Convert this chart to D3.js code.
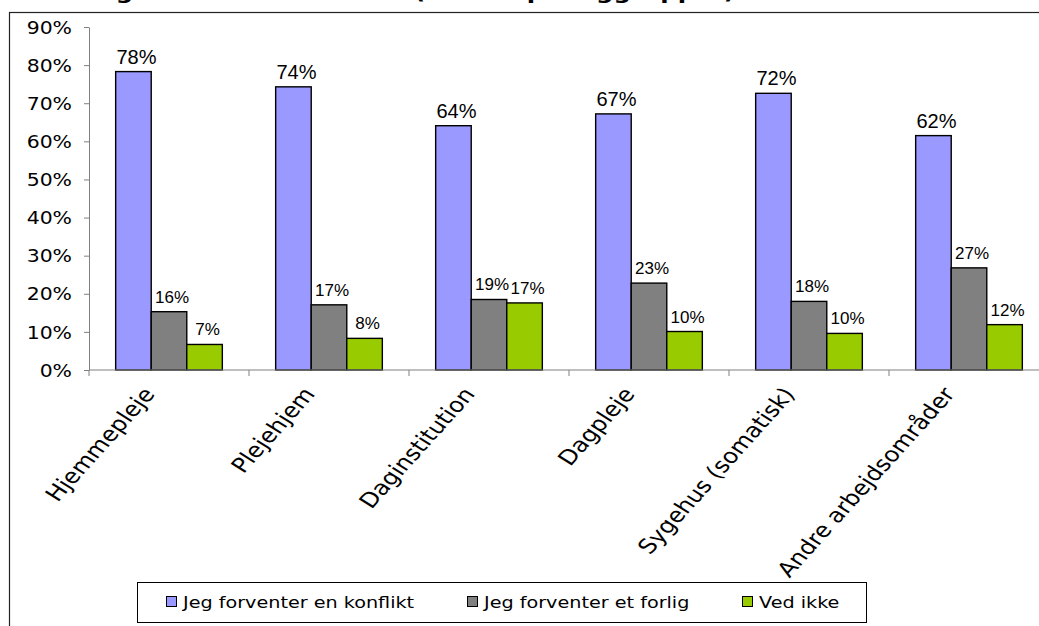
<!DOCTYPE html>
<html>
<head>
<meta charset="utf-8">
<script src="https://cdn.jsdelivr.net/npm/d3@7"></script>
<style>
  body { margin: 0; background: #fff; }
  svg { display: block; }
</style>
</head>
<body>
<div id="chart"></div>
<script>
const categories = ["Hjemmepleje", "Plejehjem", "Daginstitution", "Dagpleje", "Sygehus (somatisk)", "Andre arbejdsområder"];
const seriesNames = ["Jeg forventer en konflikt", "Jeg forventer et forlig", "Ved ikke"];
const konflikt = [78.3, 74.3, 64.1, 67.2, 72.6, 61.5];
const forlig = [15.3, 17.1, 18.5, 22.8, 18.0, 26.8];
const vedIkke = [6.7, 8.3, 17.6, 10.1, 9.6, 11.9];
const konfliktLabels = ["78%", "74%", "64%", "67%", "72%", "62%"];
const forligLabels = ["16%", "17%", "19%", "23%", "18%", "27%"];
const vedIkkeLabels = ["7%", "8%", "17%", "10%", "10%", "12%"];
const yTicks = [0, 10, 20, 30, 40, 50, 60, 70, 80, 90];
const title = "Forventning til overenskomsten (fordelt på faggrupper)";

const width = 1039;
const height = 626;
const sx = 1.2; // the original picture is stretched sideways
const colors = ["#9999ff", "#808080", "#99cc00"];

const svg = d3
  .select("#chart")
  .append("svg")
  .attr("width", width)
  .attr("height", height);

// title, cut off at the top just like in the source picture
svg
  .append("text")
  .attr("transform", `translate(-33,-1) scale(${sx},1)`)
  .style("font-family", "DejaVu Sans")
  .style("font-weight", "bold")
  .style("font-size", "20.3px")
  .text(title);

// chart frame
svg
  .append("rect")
  .attr("x", 9.5)
  .attr("y", 12.5)
  .attr("width", 1200)
  .attr("height", 800)
  .attr("fill", "none")
  .attr("stroke", "#222")
  .attr("stroke-width", 1.2);

const x = d3.scaleBand().domain(categories).range([89, 1049]);
const bw = x.bandwidth();
const inner = d3
  .scaleBand()
  .domain([0, 1, 2])
  .range([(bw * 0.75) / 4.5, (bw * 3.75) / 4.5]);
const y = d3.scaleLinear().domain([0, 90]).range([370, 27]);

// y axis
const yAxis = svg
  .append("g")
  .attr("transform", "translate(89,0)")
  .call(
    d3
      .axisLeft(y)
      .tickValues(yTicks)
      .tickFormat((d) => d + "%")
      .tickSize(5)
      .tickSizeOuter(0)
  );
yAxis.select(".domain").attr("stroke", "#808080");
yAxis.selectAll(".tick line").attr("stroke", "#808080");
yAxis
  .selectAll(".tick text")
  .attr("x", null)
  .attr("transform", `translate(-17,0) scale(${sx},1)`)
  .attr("dy", "0.36em")
  .style("font-family", "DejaVu Sans")
  .style("font-size", "17px")
  .attr("fill", "#000");

// bars
const series = [konflikt, forlig, vedIkke];
const labels = [konfliktLabels, forligLabels, vedIkkeLabels];

series.forEach((values, s) => {
  const g = svg.append("g");
  g.selectAll("rect")
    .data(values)
    .enter()
    .append("rect")
    .attr("x", (d, i) => x(categories[i]) + inner(s))
    .attr("y", (d) => y(d))
    .attr("width", inner.bandwidth())
    .attr("height", (d) => y(0) - y(d))
    .attr("fill", colors[s])
    .attr("stroke", "#000")
    .attr("stroke-width", 1.4);

  g.selectAll("text")
    .data(values)
    .enter()
    .append("text")
    .attr("x", (d, i) => x(categories[i]) + inner(s) + inner.bandwidth() / 2 + 3)
    .attr("y", (d) => y(d) - (s === 0 ? 8 : 9))
    .attr("text-anchor", "middle")
    .style("font-family", "Liberation Sans")
    .style("font-size", s === 0 ? "20px" : "17px")
    .text((d, i) => labels[s][i]);
});

// x axis
svg
  .append("line")
  .attr("x1", 89)
  .attr("x2", 1049)
  .attr("y1", y(0))
  .attr("y2", y(0))
  .attr("stroke", "#808080");

const edges = categories.map((c) => x(c)).concat([x.range()[1]]);
svg
  .selectAll(".xtick")
  .data(edges)
  .enter()
  .append("line")
  .attr("x1", (d) => d)
  .attr("x2", (d) => d)
  .attr("y1", y(0))
  .attr("y2", y(0) + 6)
  .attr("stroke", "#808080");

svg
  .selectAll(".xlabel")
  .data(categories)
  .enter()
  .append("text")
  .attr("transform", (d) => `translate(${x(d) + bw / 2 - 20},390) scale(${sx},1) rotate(-53)`)
  .attr("text-anchor", "end")
  .attr("dy", "0.35em")
  .style("font-family", "DejaVu Sans")
  .style("font-size", "20.5px")
  .text((d) => d);

// legend
const legend = svg.append("g");
legend
  .append("rect")
  .attr("x", 137.5)
  .attr("y", 582.5)
  .attr("width", 729)
  .attr("height", 40)
  .attr("fill", "#fff")
  .attr("stroke", "#000");

const legendX = [166, 467, 742];
seriesNames.forEach((name, i) => {
  legend
    .append("rect")
    .attr("x", legendX[i] + 0.5)
    .attr("y", 596.5)
    .attr("width", 10)
    .attr("height", 10)
    .attr("fill", colors[i])
    .attr("stroke", "#000");
  legend
    .append("text")
    .attr("transform", `translate(${legendX[i] + 17},608) scale(${sx},1)`)
    .style("font-family", "DejaVu Sans")
    .style("font-size", "16px")
    .text(name);
});
</script>
</body>
</html>
